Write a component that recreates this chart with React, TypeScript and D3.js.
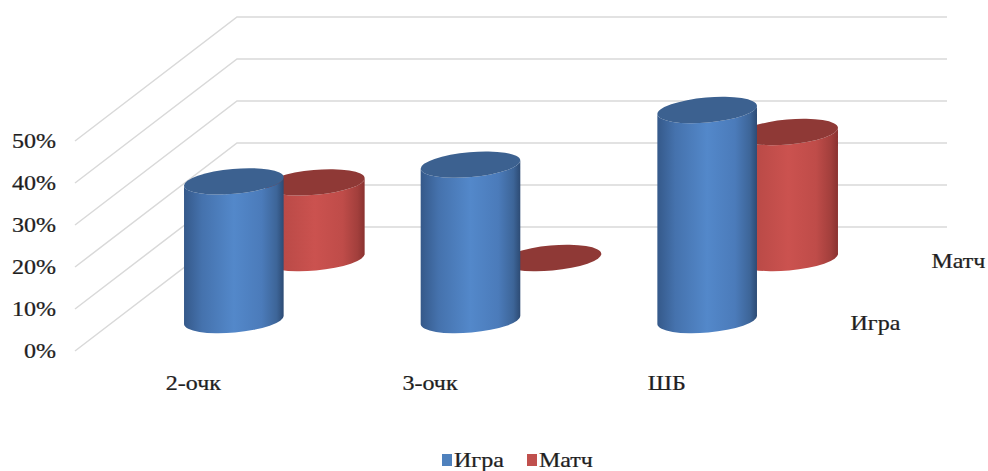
import React from "react";
import * as d3 from "d3";

// Categories, series and values (shares)
const categories = ["2-очк", "3-очк", "ШБ"];
const seriesNames = ["Игра", "Матч"];
const igraValues = [0.33, 0.37, 0.5];
const matchValues = [0.18, 0.0, 0.3];
const tickValues = [0, 0.1, 0.2, 0.3, 0.4, 0.5];

const W = 988;
const H = 471;

// Oblique 3D frame: front-left origin, depth vector, wall width
const ORIGIN_X = 75;
const ORIGIN_Y = 351;
const DEPTH_DX = 162;
const DEPTH_DY = -124;
const WALL_W = 710;

const FONT = "'Liberation Serif', 'Times New Roman', serif";

const xBand = d3.scaleBand<string>().domain(categories).range([0, WALL_W]);
const vScale = d3.scaleLinear().domain([0, 0.5]).range([0, 210]);
const depth = d3.scalePoint<string>().domain(seriesNames).range([0, 1]).padding(0.5);

function project(u: number, v: number, w: number): [number, number] {
  return [ORIGIN_X + u + w * DEPTH_DX, ORIGIN_Y - vScale(v) + w * DEPTH_DY];
}

const RX = 50;
const RY = 12.5;
const TILT = -5; // degrees
const tiltRad = (TILT * Math.PI) / 180;

const colors: Record<string, { side: string; top: string }> = {
  Игра: { side: "url(#gradBlue)", top: "#3c6190" },
  Матч: { side: "url(#gradRed)", top: "#8f3936" },
};
const legendColors: Record<string, string> = { Игра: "#4f81bd", Матч: "#c0504d" };

function Cylinder({ cat, series, value }: { cat: string; series: string; value: number }) {
  const w = depth(series) as number;
  const u = (xBand(cat) as number) + xBand.bandwidth() / 2;
  const [cx, by] = project(u, 0, w);
  const [, ty] = project(u, value, w);
  const ex = RX * Math.cos(tiltRad);
  const ey = RX * Math.sin(tiltRad);
  const c = colors[series];
  const bodyPath = [
    `M${cx - ex},${ty - ey}`,
    `L${cx - ex},${by - ey}`,
    `A${RX},${RY} ${TILT} 0 0 ${cx + ex},${by + ey}`,
    `L${cx + ex},${ty + ey}`,
    `A${RX},${RY} ${TILT} 0 1 ${cx - ex},${ty - ey}`,
    "Z",
  ].join(" ");
  return (
    <g>
      {value > 0 && <path d={bodyPath} fill={c.side} />}
      <ellipse
        cx={0}
        cy={0}
        rx={RX}
        ry={RY}
        fill={c.top}
        transform={`translate(${cx},${ty}) rotate(${TILT})`}
      />
    </g>
  );
}

function Label({ x, y, text, anchor = "start" }: { x: number; y: number; text: string; anchor?: string }) {
  return (
    <g transform={`translate(${x},${y}) scale(1.2,1)`}>
      <text
        x={0}
        y={0}
        textAnchor={anchor as any}
        fontFamily={FONT}
        fontSize={20}
        fill="#1f1f1f"
        stroke="#1f1f1f"
        strokeWidth={0.25}
      >
        {text}
      </text>
    </g>
  );
}

export default function App() {
  const rows = [
    { series: "Матч", values: matchValues },
    { series: "Игра", values: igraValues },
  ];
  return (
    <svg
      width={W}
      height={H}
      style={{ position: "absolute", left: 0, top: 0, background: "#fff" }}
    >
      <defs>
        <linearGradient id="gradBlue" x1="0" x2="1" y1="0" y2="0">
          <stop offset="0" stopColor="#35598a" />
          <stop offset="0.18" stopColor="#4572ad" />
          <stop offset="0.5" stopColor="#5388ca" />
          <stop offset="0.78" stopColor="#4b7bba" />
          <stop offset="0.93" stopColor="#3d6598" />
          <stop offset="1" stopColor="#2d4b74" />
        </linearGradient>
        <linearGradient id="gradRed" x1="0" x2="1" y1="0" y2="0">
          <stop offset="0" stopColor="#9c3d3a" />
          <stop offset="0.18" stopColor="#ba4a47" />
          <stop offset="0.5" stopColor="#cb524f" />
          <stop offset="0.78" stopColor="#bf4c49" />
          <stop offset="0.93" stopColor="#a23f3c" />
          <stop offset="1" stopColor="#8a3230" />
        </linearGradient>
      </defs>

      {/* side wall and back wall gridlines */}
      <g stroke="#d9d9d9" strokeWidth={1.5} fill="none">
        {tickValues.map((t) => {
          const a = project(0, t, 0);
          const b = project(0, t, 1);
          const c = project(WALL_W, t, 1);
          return <polyline key={t} points={`${a[0]},${a[1]} ${b[0]},${b[1]} ${c[0]},${c[1]}`} />;
        })}
      </g>

      {/* value axis labels */}
      {tickValues.map((t) => {
        const [x, y] = project(0, t, 0);
        return <Label key={t} x={x - 19} y={y + 7} text={`${Math.round(t * 100)}%`} anchor="end" />;
      })}

      {/* cylinders, back row first */}
      {rows.map((r) =>
        categories.map((cat, i) => (
          <Cylinder key={r.series + cat} cat={cat} series={r.series} value={r.values[i]} />
        ))
      )}

      {/* category labels along the front edge */}
      {categories.map((cat) => {
        const [x, y] = project((xBand(cat) as number) + xBand.bandwidth() / 2, 0, 0);
        return <Label key={cat} x={x} y={y + 39} text={cat} anchor="middle" />;
      })}

      {/* series labels along the depth axis */}
      {seriesNames.map((s) => {
        const [x, y] = project(WALL_W, 0, depth(s) as number);
        return <Label key={s} x={x + 25} y={y + 10} text={s} />;
      })}

      {/* legend */}
      {seriesNames.map((s, i) => {
        const lx = 442 + i * 85;
        return (
          <g key={s}>
            <rect x={lx} y={454} width={10} height={12} fill={legendColors[s]} />
            <Label x={lx + 12} y={467} text={s} />
          </g>
        );
      })}
    </svg>
  );
}
